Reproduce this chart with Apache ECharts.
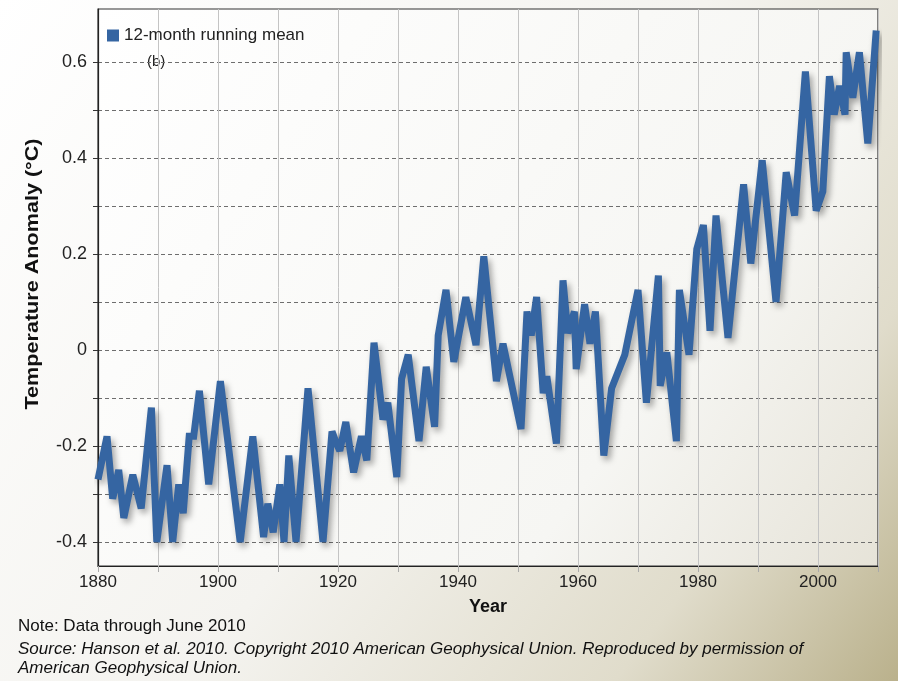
<!DOCTYPE html>
<html>
<head>
<meta charset="utf-8">
<script src="https://cdn.jsdelivr.net/npm/echarts@6/dist/echarts.min.js"></script>
<style>
  html, body { margin: 0; padding: 0; }
  #chart { width: 898px; height: 681px; }
</style>
</head>
<body>
<div id="chart"></div>
<script>
// Years (decimal) of the line's vertices
const years = [
  1880.0, 1881.5, 1882.45, 1883.45, 1884.3, 1885.8, 1887.2, 1888.9, 1889.8, 1891.5,
  1892.45, 1893.45, 1894.2, 1895.2, 1895.95, 1896.9, 1898.45, 1900.4, 1903.7, 1905.8,
  1907.6, 1908.3, 1909.2, 1910.3, 1911.0, 1911.8, 1913.0, 1915.0, 1917.5, 1919.0,
  1919.6, 1920.3, 1921.3, 1922.6, 1923.9, 1924.8, 1926.0, 1927.5, 1928.3, 1929.8,
  1930.6, 1931.7, 1933.5, 1934.7, 1936.1, 1936.7, 1938.0, 1939.3, 1941.3, 1943.0,
  1944.3, 1946.4, 1947.5, 1950.5, 1951.5, 1952.2, 1953.1, 1954.2, 1954.8, 1956.4,
  1957.5, 1958.3, 1959.4, 1959.7, 1961.1, 1962.0, 1962.9, 1964.3, 1965.6, 1967.8,
  1970.0, 1971.4, 1973.4, 1973.7, 1974.8, 1976.4, 1976.9, 1978.5, 1979.8, 1980.9,
  1982.0, 1983.0, 1985.0, 1987.6, 1988.8, 1990.7, 1993.0, 1994.7, 1996.1, 1997.9,
  1999.7, 2000.8, 2001.9, 2002.7, 2003.6, 2004.5, 2004.7, 2005.8, 2006.9, 2008.3,
  2009.7
];
// 12-month running mean temperature anomaly (°C)
const anomaly = [
  -0.27, -0.18, -0.31, -0.25, -0.35, -0.26, -0.33, -0.12, -0.40, -0.24,
  -0.40, -0.28, -0.34, -0.18, -0.18, -0.085, -0.28, -0.065, -0.40, -0.18,
  -0.39, -0.32, -0.38, -0.28, -0.40, -0.22, -0.40, -0.08, -0.40, -0.17,
  -0.19, -0.21, -0.15, -0.255, -0.18, -0.23, 0.015, -0.145, -0.11, -0.265,
  -0.06, -0.01, -0.19, -0.035, -0.16, 0.03, 0.125, -0.025, 0.11, 0.01,
  0.195, -0.065, 0.013, -0.165, 0.08, 0.03, 0.11, -0.09, -0.055, -0.195,
  0.145, 0.035, 0.08, -0.04, 0.095, 0.013, 0.08, -0.22, -0.08, -0.01,
  0.125, -0.11, 0.155, -0.075, -0.005, -0.19, 0.125, -0.01, 0.21, 0.26,
  0.04, 0.28, 0.025, 0.345, 0.18, 0.395, 0.10, 0.37, 0.28, 0.58,
  0.29, 0.33, 0.57, 0.49, 0.55, 0.49, 0.62, 0.525, 0.62, 0.43,
  0.665
];
const seriesName = '12-month running mean';
const yTickValues = [-0.4, -0.3, -0.2, -0.1, 0, 0.1, 0.2, 0.3, 0.4, 0.5, 0.6];
const yLabelValues = [-0.4, -0.2, 0, 0.2, 0.4, 0.6];
const xLabelYears = [1880, 1900, 1920, 1940, 1960, 1980, 2000];
const yAxisTitle = 'Temperature Anomaly (°C)';
const xAxisTitle = 'Year';
const panelTag = '(b)';
const noteText = 'Note: Data through June 2010';
const sourceText = 'Source: Hanson et al. 2010. Copyright 2010 American Geophysical Union. Reproduced by permission of\nAmerican Geophysical Union.';

const FONT = '"Liberation Sans", Arial, Helvetica, sans-serif';
const LINE_COLOR = '#3565a2';
const chart = echarts.init(document.getElementById('chart'), null, { renderer: 'canvas' });

chart.setOption({
  animation: false,
  backgroundColor: {
    type: 'linear', x: 0, y: 0, x2: 1, y2: 1,
    colorStops: [
      { offset: 0, color: '#ffffff' },
      { offset: 0.5, color: '#f4f3ef' },
      { offset: 0.8, color: '#e0dccb' },
      { offset: 1, color: '#bab18c' }
    ]
  },
  textStyle: { fontFamily: FONT },
  grid: {
    left: 98, right: 20, top: 9, bottom: 115,
    show: true,
    borderColor: '#333',
    borderWidth: 1.2,
    backgroundColor: {
      type: 'linear', x: 0, y: 0, x2: 1, y2: 1,
      colorStops: [
        { offset: 0, color: '#ffffff' },
        { offset: 0.7, color: '#f6f6f3' },
        { offset: 1, color: '#e6e3d8' }
      ]
    }
  },
  legend: {
    left: 102, top: 22,
    itemWidth: 12, itemHeight: 12, itemGap: 10,
    icon: 'rect',
    textStyle: { fontSize: 17, color: '#222', fontFamily: FONT },
    data: [{ name: seriesName, itemStyle: { color: LINE_COLOR } }]
  },
  xAxis: {
    type: 'value',
    min: 1880, max: 2010, interval: 10,
    name: xAxisTitle,
    nameLocation: 'middle',
    nameGap: 32,
    nameTextStyle: { fontSize: 18, fontWeight: 'bold', color: '#111', fontFamily: FONT },
    axisLine: { show: true, onZero: false, lineStyle: { color: '#222', width: 1.2 } },
    axisTick: { show: true, length: 6, lineStyle: { color: '#aaa' } },
    axisLabel: {
      fontSize: 17, color: '#222', margin: 8, fontFamily: FONT,
      formatter: v => (xLabelYears.indexOf(v) >= 0 ? String(v) : '')
    },
    splitLine: { show: true, lineStyle: { color: '#c4c4c4', width: 1, type: 'solid' } }
  },
  yAxis: {
    type: 'value',
    min: -0.45, max: 0.71,
    axisLine: { show: true, onZero: false, lineStyle: { color: '#222', width: 1.2 } },
    axisTick: { show: true, length: 5, inside: false, customValues: yTickValues, lineStyle: { color: '#333' } },
    axisLabel: {
      fontSize: 18, color: '#222', margin: 11, fontFamily: FONT,
      customValues: yLabelValues,
      formatter: v => (Math.abs(v) < 1e-9 ? '0' : v.toFixed(1))
    },
    splitLine: { show: true, lineStyle: { color: '#6e6e6e', width: 1, type: [4, 3] } }
  },
  graphic: [
    {
      type: 'text', left: 147, top: 54,
      style: { text: panelTag, fontSize: 15, fill: '#222', fontFamily: FONT }
    },
    {
      type: 'text', x: 33, y: 274, rotation: Math.PI / 2, scaleX: 1.2,
      style: {
        text: yAxisTitle, fontSize: 18, fontWeight: 'bold', fill: '#111', fontFamily: FONT,
        align: 'center', verticalAlign: 'middle'
      }
    },
    {
      type: 'text', left: 18, top: 618,
      style: { text: noteText, fontSize: 17, fill: '#111', fontFamily: FONT }
    },
    {
      type: 'text', left: 18, top: 640,
      style: { text: sourceText, fontSize: 17, fontStyle: 'italic', fill: '#111', fontFamily: FONT, lineHeight: 19 }
    }
  ],
  series: [{
    name: seriesName,
    type: 'line',
    data: years.map((y, i) => [y, anomaly[i]]),
    showSymbol: false,
    symbol: 'none',
    lineStyle: {
      color: LINE_COLOR, width: 7, join: 'miter', miterLimit: 3,
      shadowColor: 'rgba(0,0,0,0.35)', shadowBlur: 6, shadowOffsetX: 3, shadowOffsetY: 4
    },
    itemStyle: { color: LINE_COLOR }
  }]
});
</script>
</body>
</html>
